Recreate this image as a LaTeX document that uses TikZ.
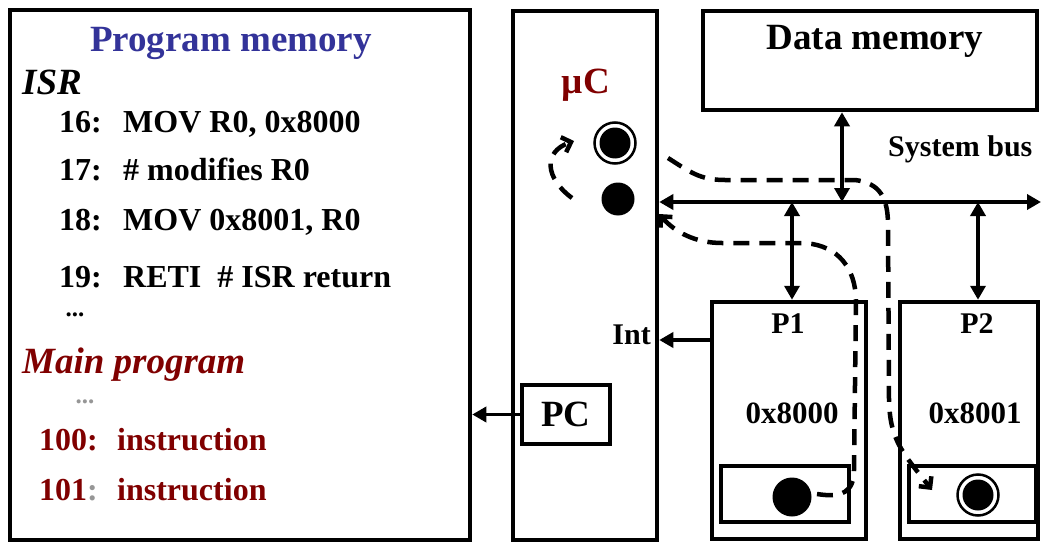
\documentclass[tikz,border=0pt]{standalone}
\usepackage{fontspec}
\setmainfont{Liberation Serif}
\usetikzlibrary{arrows.meta,positioning,calc}
\definecolor{pmblue}{RGB}{51,51,153}
\definecolor{mainred}{RGB}{128,0,0}
\definecolor{dotgray}{RGB}{150,150,150}

\begin{document}
\begin{tikzpicture}[x=1pt,y=-1pt,>={Triangle[length=14pt,width=15pt]},
 box/.style={draw,line width=4.5pt,inner sep=0pt},
 regbox/.style={draw,line width=4pt,inner sep=0pt},
 busline/.style={line width=3.5pt},
 flow/.style={line width=4.5pt,dash pattern=on 16pt off 10pt},
 flowtip/.style={-{Straight Barb[length=8pt,width=16pt,line width=4.5pt]}},
 dotmark/.style={circle,fill,inner sep=0pt},
 ringmark/.style={circle,draw,line width=2.5pt,inner sep=0pt},
 txt/.style={inner sep=0pt,font=\bfseries\fontsize{32}{36}\selectfont},
 head/.style={inner sep=0pt,font=\bfseries\fontsize{37}{40}\selectfont},
 ital/.style={inner sep=0pt,font=\bfseries\itshape\fontsize{37}{40}\selectfont}]
 \useasboundingbox (0,0) rectangle (1042,543);
 % boxes
 \node[box,minimum width=460pt,minimum height=530pt] (progmem) at (240,275) {};
 \node[box,minimum width=144pt,minimum height=529pt] (uc) at (585,275.5) {};
 \node[box,minimum width=334pt,minimum height=99pt] (datamem) at (870,60.5) {};
 \node[box,minimum width=154pt,minimum height=237pt] (p1) at (789,420.5) {};
 \node[box,minimum width=138pt,minimum height=237pt] (p2) at (969,420.5) {};
 \node[regbox,minimum width=128pt,minimum height=56pt] (p1reg) at (785,494) {};
 \node[regbox,minimum width=127pt,minimum height=56pt] (p2reg) at (972.5,494) {};
 \node[box,minimum width=88pt,minimum height=59pt,head] (pc) at (566,414.5) {PC};
 % program memory text
 \node[head,text=pmblue,anchor=base] (pmtitle) at (231,52) {Program memory};
 \node[ital,anchor=base west] (isr) at (22,95) {ISR};
 \node[txt,anchor=base east] (n16) at (102,132) {16:};
 \node[txt,anchor=base west] (c16) at (123,132) {MOV R0, 0x8000};
 \node[txt,anchor=base east] (n17) at (102,180) {17:};
 \node[txt,anchor=base west] (c17) at (123,180) {\# modifies R0};
 \node[txt,anchor=base east] (n18) at (102,230) {18:};
 \node[txt,anchor=base west] (c18) at (123,230) {MOV 0x8001, R0};
 \node[txt,anchor=base east] (n19) at (102,287) {19:};
 \node[txt,anchor=base west] (c19) at (123,287) {RETI\ \ \# ISR return};
 \node[txt,font=\bfseries\fontsize{25}{28}\selectfont] (isrdots) at (75,315) {...};
 \node[ital,text=mainred,anchor=base west] (mainhd) at (22,373) {Main program};
 \node[txt,text=dotgray,font=\bfseries\fontsize{25}{28}\selectfont] (maindots) at (85,402) {...};
 \node[txt,text=mainred,anchor=base east] (n100) at (98,450) {100:};
 \node[txt,text=mainred,anchor=base west] (c100) at (117,450) {instruction};
 \node[txt,text=mainred,anchor=base east] (n101) at (98,500) {101\textcolor{dotgray}{:}};
 \node[txt,text=mainred,anchor=base west] (c101) at (117,500) {instruction};
 % other labels
 \node[head,text=mainred,anchor=base] (uclbl) at (586,93) {µC};
 \node[head,anchor=base] (dmlbl) at (875,50) {Data memory};
 \node[txt,font=\bfseries\fontsize{30}{34}\selectfont,anchor=base west] (buslbl) at (888,156) {System bus};
 \node[txt,font=\bfseries\fontsize{30}{34}\selectfont,anchor=base east] (intlbl) at (651,344) {Int};
 \node[txt,font=\bfseries\fontsize{30}{34}\selectfont,anchor=base] (p1lbl) at (788,333) {P1};
 \node[txt,font=\bfseries\fontsize{30}{34}\selectfont,anchor=base] (p2lbl) at (977,333) {P2};
 \node[txt,font=\bfseries\fontsize{31}{34}\selectfont,anchor=base] (p1addr) at (792,423) {0x8000};
 \node[txt,font=\bfseries\fontsize{31}{34}\selectfont,anchor=base] (p2addr) at (975,423) {0x8001};
 % marks
 \node[ringmark,minimum size=41pt] (ucring) at (615,143) {};
 \node[dotmark,minimum size=31pt] (ucringdot) at (615,143) {};
 \node[dotmark,minimum size=33pt] (ucdot) at (618,199) {};
 \node[dotmark,minimum size=39pt] (p1dot) at (792,497) {};
 \node[ringmark,minimum size=41pt] (p2ring) at (978,495) {};
 \node[dotmark,minimum size=31pt] (p2ringdot) at (978,495) {};
 % system bus
 \coordinate (busR) at (1041,202);
 \coordinate (dmtap) at (842,202);
 \coordinate (p1tap) at (792,202);
 \coordinate (p2tap) at (978,202);
 \draw[busline,<->] (busR -| uc.east) -- (busR);
 \draw[busline,<->] (dmtap |- datamem.south) -- (dmtap);
 \draw[busline,<->] (p1tap) -- (p1tap |- p1.north);
 \draw[busline,<->] (p2tap) -- (p2tap |- p2.north);
 \coordinate (intsrc) at (712,340);
 \draw[busline,->] (intsrc -| p1.west) -- (intsrc -| uc.east);
 \draw[busline,->] (pc.west) -- (pc.west -| progmem.east);
 % dashed flows
 \coordinate (jmpA) at (572,198);
 \coordinate (jmpB) at (574,141);
 \draw[flow,flowtip] (jmpA) .. controls (545,178) and (543,152) .. (jmpB);
 \coordinate (rdA) at (668,158);
 \coordinate (rdB) at (932,490);
 \draw[flow,flowtip] (rdA) .. controls (690,172) and (700,180) .. (725,180)
  -- (855,180) .. controls (880,183) and (888,198) .. (888,225)
  -- (889,400) .. controls (890,440) and (902,452) .. (rdB);
 \coordinate (wrA) at (817,494);
 \coordinate (wrB) at (659,214);
 \draw[flow,flowtip] (wrA) .. controls (842,498) and (854,492) .. (854,470)
  -- (856,300) .. controls (855,262) and (832,243) .. (800,243)
  -- (722,243) .. controls (695,243) and (675,232) .. (wrB);
\end{tikzpicture}
\end{document}
